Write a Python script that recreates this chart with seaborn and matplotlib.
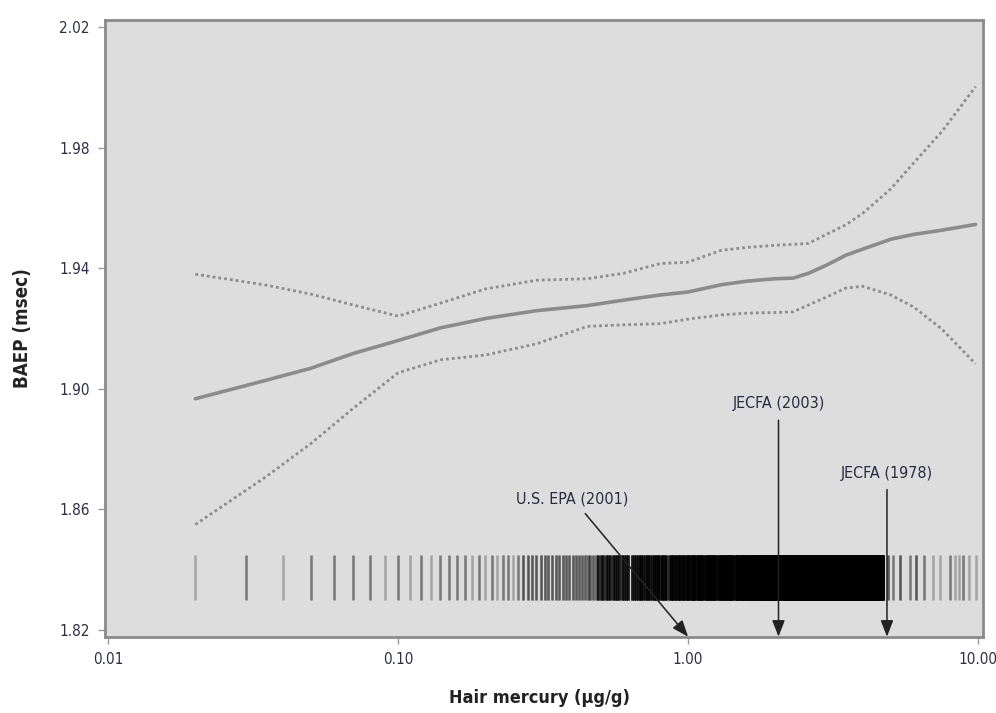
import numpy as np
import pandas as pd
import seaborn as sns
import matplotlib
matplotlib.use("Agg")
import matplotlib.pyplot as plt

# smoothed fit and 95% band
hg_fit = [0.02, 0.035, 0.05, 0.07, 0.10, 0.14, 0.20, 0.30, 0.45, 0.60, 0.80, 1.00,
          1.30, 1.60, 2.00, 2.30, 2.60, 3.00, 3.50, 4.00, 5.00, 6.00, 7.50, 9.80]
baep_fit = [1.8967, 1.9028, 1.9068, 1.9117, 1.9160, 1.9202, 1.9233, 1.9259, 1.9276, 1.9294,
            1.9311, 1.9321, 1.9345, 1.9357, 1.9365, 1.9367, 1.9383, 1.9410, 1.9443, 1.9463,
            1.9496, 1.9512, 1.9526, 1.9545]
baep_upper = [1.9380, 1.9344, 1.9314, 1.9278, 1.9241, 1.9284, 1.9331, 1.9360, 1.9365, 1.9383,
              1.9415, 1.9420, 1.9459, 1.9469, 1.9476, 1.9479, 1.9482, 1.9512, 1.9544, 1.9582,
              1.9663, 1.9749, 1.9853, 2.0002]
baep_lower = [1.8550, 1.8708, 1.8818, 1.8935, 1.9053, 1.9096, 1.9112, 1.9149, 1.9207, 1.9212,
              1.9216, 1.9231, 1.9245, 1.9251, 1.9253, 1.9255, 1.9278, 1.9304, 1.9334, 1.9340,
              1.9311, 1.9271, 1.9198, 1.9083]

# observed hair mercury values (rug), value -> number of children
rug_left_hg = [0.02, 0.03, 0.04, 0.05, 0.06, 0.07, 0.08, 0.09, 0.10, 0.11, 0.12, 0.13, 0.14,
               0.15, 0.16, 0.17, 0.18, 0.19, 0.20, 0.21, 0.22, 0.23, 0.24, 0.25, 0.26]
rug_left_n = [1, 2, 1, 2, 2, 2, 2, 1, 2, 1, 2, 1, 2, 2, 2, 2, 1, 2, 1, 2, 1, 2, 2, 1, 2]
band_start = [0.27, 0.49, 0.64, 0.86, 1.27, 1.45]
band_end = [0.48, 0.62, 0.84, 1.25, 1.43, 4.70]
band_n = [3, 7, 7, 7, 7, 7]
rug_right_hg = [4.9, 5.1, 5.4, 5.8, 6.1, 6.5, 7.0, 7.4, 8.0, 8.3, 8.6, 8.9, 9.3, 9.8]
rug_right_n = [3, 2, 3, 2, 3, 2, 1, 1, 2, 1, 1, 2, 1, 1]

# reference levels
guide_labels = ["U.S. EPA (2001)", "JECFA (2003)", "JECFA (1978)"]
guide_hg = [1.00, 2.05, 4.85]
label_hg = [0.40, 2.05, 4.85]
label_baep = [1.8636, 1.8950, 1.8720]

x_ticks = [0.01, 0.1, 1, 10]
x_ticklabels = ["0.01", "0.10", "1.00", "10.00"]
y_ticks = [1.82, 1.86, 1.90, 1.94, 1.98, 2.02]

sns.set_theme(style="white")
plt.rcParams["font.family"] = ["DejaVu Sans"]
plt.rcParams["font.stretch"] = "condensed"

fit = pd.DataFrame({"hg": hg_fit, "fit": baep_fit, "upper": baep_upper, "lower": baep_lower})

fig = plt.figure(figsize=(9.96, 7.13), dpi=100)
ax = fig.add_axes([0.1054, 0.1066, 0.8816, 0.8654])
ax.set_facecolor("#dcdddc")

line_col = "#8c8c8c"
sns.lineplot(data=fit, x="hg", y="fit", ax=ax, color=line_col, lw=2.6)
sns.lineplot(data=fit, x="hg", y="upper", ax=ax, color=line_col, lw=2.0, linestyle=(0, (1, 1.1)))
sns.lineplot(data=fit, x="hg", y="lower", ax=ax, color=line_col, lw=2.0, linestyle=(0, (1, 1.1)))

rug_hg = list(rug_left_hg)
rug_n = list(rug_left_n)
for s, e, n in zip(band_start, band_end, band_n):
    vals = np.round(np.arange(s, e + 0.005, 0.01), 2)
    rug_hg += list(vals)
    rug_n += [n] * len(vals)
rug_hg += rug_right_hg
rug_n += rug_right_n
ax.vlines(np.repeat(rug_hg, rug_n), 1.8299, 1.8448, color="black", alpha=0.26, lw=1.8)

for lab, gx, tx, ty in zip(guide_labels, guide_hg, label_hg, label_baep):
    ax.annotate(lab, xy=(gx, 1.8178), xytext=(tx, ty), ha="center", va="center",
                fontsize=11.5, color="#2a2a40",
                arrowprops=dict(arrowstyle="-|>,head_length=0.9,head_width=0.35",
                                color="#222222", lw=1.1, shrinkA=4, shrinkB=0,
                                mutation_scale=11))

ax.set_xscale("log")
ax.set_xlim(0.00976, 10.4)
ax.set_ylim(1.8177, 2.0223)
ax.set_xticks(x_ticks)
ax.set_xticklabels(x_ticklabels)
ax.xaxis.set_minor_locator(matplotlib.ticker.NullLocator())
ax.set_yticks(y_ticks)
ax.set_yticklabels([f"{v:.2f}" for v in y_ticks])
ax.tick_params(axis="both", direction="out", length=5, width=1, color="#9a9a9a",
               labelsize=11, labelcolor="#2e2e48", pad=6, bottom=True, left=True)

for sp in ax.spines.values():
    sp.set_color("#8a8a8a")
    sp.set_linewidth(2)

ax.set_xlabel("Hair mercury (µg/g)", fontsize=13, fontweight="bold", color="#222222")
ax.set_ylabel("BAEP (msec)", fontsize=13.5, fontweight="bold", color="#222222")
ax.xaxis.set_label_coords(0.495, -0.084)
ax.yaxis.set_label_coords(-0.083, 0.5)

fig.savefig("out.png", dpi=100, facecolor="white")
